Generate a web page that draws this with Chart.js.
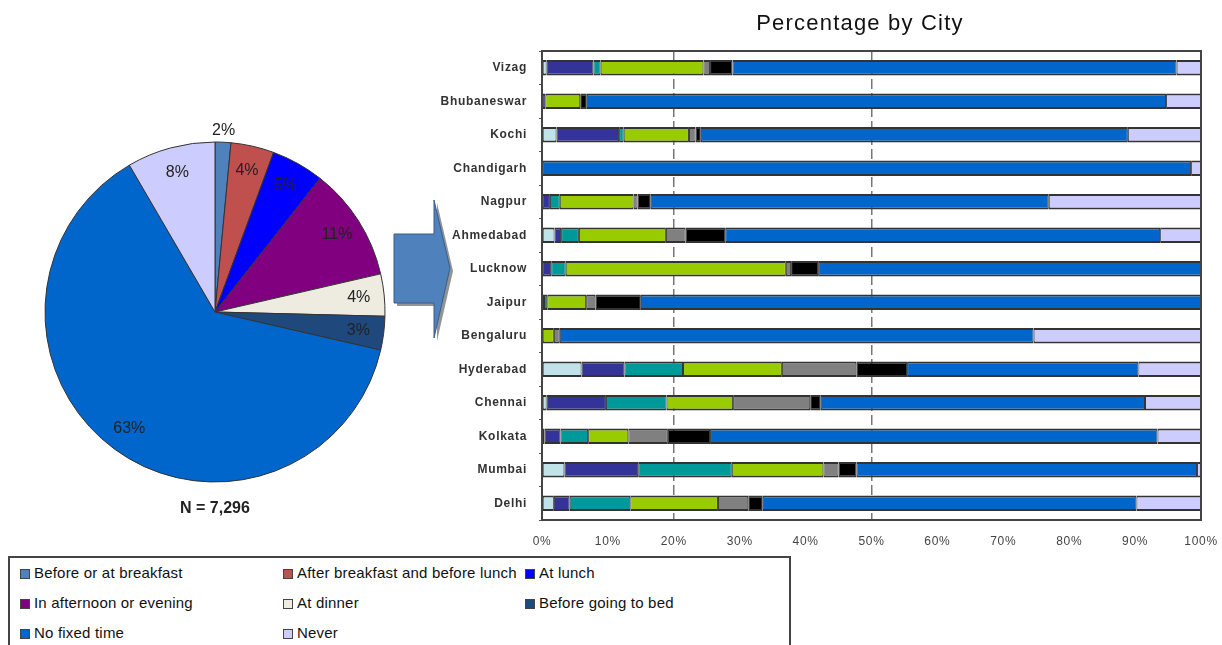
<!DOCTYPE html>
<html>
<head>
<meta charset="utf-8">
<script src="https://cdn.jsdelivr.net/npm/chart.js@4/dist/chart.umd.min.js"></script>
<style>
  body { margin: 0; background: #fff; width: 1222px; height: 645px; overflow: hidden; position: relative;
         font-family: "Liberation Sans", Arial, sans-serif; }
  #pieWrap { position: absolute; left: 0; top: 110px; width: 430px; height: 404px; }
  #barWrap { position: absolute; left: 420px; top: 0; width: 802px; height: 555px; }
  #title { position: absolute; left: 660px; width: 400px; top: 10px; text-align: center;
           font-size: 22px; letter-spacing: 1.2px; color: #111; }
  #nLabel { position: absolute; left: 115px; width: 200px; top: 499px; text-align: center;
            font-weight: bold; font-size: 16px; color: #222; }
  #legend { position: absolute; left: 8px; top: 556px; width: 783px; height: 100px;
            border: 2px solid #444; box-sizing: border-box; }
  .item { position: absolute; height: 30px; line-height: 30px; font-size: 15px; color: #111; white-space: nowrap;
          letter-spacing: 0.2px; }
  .item i { display: inline-block; width: 8px; height: 8px; border: 1px solid #444; margin-right: 4px;
            vertical-align: -1px; }
  #arrow { position: absolute; left: 390px; top: 196px; }
</style>
</head>
<body>
<div id="pieWrap"><canvas id="pie"></canvas></div>
<div id="nLabel">N = 7,296</div>
<svg id="arrow" width="66" height="148" viewBox="390 196 66 148">
  <polygon points="397,237 437,237 437,203 453,271 437,341 437,306 397,306" fill="#3a3a3a" opacity="0.55"/>
  <polygon points="394,234 434,234 434,200 450,268 434,338 434,303 394,303" fill="#4f81bd" stroke="#385d8a" stroke-width="1"/>
</svg>
<div id="barWrap"><canvas id="bars"></canvas></div>
<div id="title">Percentage by City</div>
<div id="legend"></div>

<script>
"use strict";

// pie: overall share of each time slot
const categories = ["Before or at breakfast", "After breakfast and before lunch", "At lunch",
    "In afternoon or evening", "At dinner", "Before going to bed", "No fixed time", "Never"];
const pieShares = [1.5, 4.1, 5.0, 10.8, 4.0, 3.2, 63.0, 8.4];
const pieColors = ["#4f81bd", "#c0504d", "#0000ff", "#800080", "#eeece1", "#1f497d", "#0066cc", "#ccccff"];

// bar chart: percentage by city, top to bottom
const cities = ["Vizag", "Bhubaneswar", "Kochi", "Chandigarh", "Nagpur", "Ahmedabad", "Lucknow",
    "Jaipur", "Bengaluru", "Hyderabad", "Chennai", "Kolkata", "Mumbai", "Delhi"];
const breakfast   = [0.7, 0,    2.2,  0,    0,    1.9,  0,    0,    0,    6.0,  0.7,  0.4,  3.4,  1.8];
const afterBreak  = [7.1, 0.5,  9.5,  0,    1.2,  1.0,  1.4,  0.3,  0,    6.5,  9.0,  2.4,  11.2, 2.4];
const atLunch     = [1.1, 0,    0.7,  0,    1.5,  2.7,  2.2,  0.5,  0,    8.9,  9.2,  4.2,  14.2, 9.2];
const afternoon   = [15.6, 5.3, 9.9,  0,    11.2, 13.2, 33.4, 5.9,  1.8,  15.0, 10.1, 6.1,  13.9, 13.3];
const atDinner    = [1.0, 0,    1.0,  0,    0.6,  3.0,  0.8,  1.4,  0.9,  11.3, 11.7, 6.0,  2.3,  4.6];
const beforeBed   = [3.4, 1.0,  0.8,  0,    2.0,  6.0,  4.1,  6.9,  0,    7.7,  1.6,  6.4,  2.7,  2.2];
const noFixed     = [67.4, 87.9, 64.8, 98.5, 60.4, 66.0, 58.1, 85.0, 71.9, 35.1, 49.2, 67.9, 51.7, 56.7];
const never       = [3.7, 5.3,  11.1, 1.5,  23.1, 6.2,  0,    0,    25.4, 9.5,  8.5,  6.6,  0.6,  9.8];
const barSeries = [breakfast, afterBreak, atLunch, afternoon, atDinner, beforeBed, noFixed, never];
const barColors = ["#bfe3e8", "#333399", "#009999", "#99cc00", "#808080", "#000000", "#0066cc", "#ccccff"];
const xTickLabels = ["0%", "10%", "20%", "30%", "40%", "50%", "60%", "70%", "80%", "90%", "100%"];

const FONT = '"Liberation Sans", Arial, sans-serif';

// legend (html, built from the pie colours)
let legendHtml = "";
let colX = [10, 273, 515];
categories.forEach(function(name, i) {
    let col = i % 3, row = Math.floor(i / 3);
    legendHtml += '<div class="item" style="left:' + colX[col] + 'px;top:' + (row * 30) + 'px">' +
        '<i style="background:' + pieColors[i] + '"></i>' + name + '</div>';
});
document.getElementById("legend").innerHTML = legendHtml;

const pieLabelPlugin = {
    id: "pieLabels",
    afterDatasetsDraw(chart) {
        let ctx = chart.ctx;
        let meta = chart.getDatasetMeta(0);
        ctx.save();
        ctx.font = "16px " + FONT;
        ctx.fillStyle = "#222";
        ctx.textAlign = "center";
        ctx.textBaseline = "middle";
        meta.data.forEach(function(arc, i) {
            let p = arc.getProps(["x", "y", "startAngle", "endAngle", "outerRadius"], true);
            let mid = (p.startAngle + p.endAngle) / 2;
            let r = pieShares[i] < 2 ? p.outerRadius + 12 : p.outerRadius * 0.85;
            ctx.fillText(Math.round(pieShares[i]) + "%", p.x + Math.cos(mid) * r, p.y + Math.sin(mid) * r);
        });
        ctx.restore();
    }
};

new Chart(document.getElementById("pie"), {
    type: "pie",
    data: {
        labels: categories,
        datasets: [{
            data: pieShares,
            backgroundColor: pieColors,
            borderColor: "#333",
            borderWidth: 1,
            radius: 170
        }]
    },
    options: {
        responsive: true,
        maintainAspectRatio: false,
        animation: false,
        layout: { padding: 0 },
        plugins: { legend: { display: false }, tooltip: { enabled: false } }
    },
    plugins: [pieLabelPlugin]
});

// frame round the plot area + slightly spaced axis text like the original
const framePlugin = {
    id: "frame",
    beforeDraw(chart) {
        chart.ctx.letterSpacing = "0.7px";
    },
    afterDraw(chart) {
        let a = chart.chartArea;
        let ctx = chart.ctx;
        ctx.letterSpacing = "0px";
        ctx.save();
        ctx.strokeStyle = "#444";
        ctx.lineWidth = 2;
        ctx.strokeRect(a.left, a.top, a.right - a.left, a.bottom - a.top);
        ctx.restore();
    }
};

new Chart(document.getElementById("bars"), {
    type: "bar",
    data: {
        labels: cities,
        datasets: barSeries.map(function(vals, i) {
            return {
                label: categories[i],
                data: vals,
                backgroundColor: barColors[i],
                borderColor: "#333",
                borderWidth: { top: 2, bottom: 2, left: 1, right: 1 },
                borderSkipped: false,
                barPercentage: 0.46,
                categoryPercentage: 1
            };
        })
    },
    options: {
        indexAxis: "y",
        responsive: true,
        maintainAspectRatio: false,
        animation: false,
        layout: { padding: { left: 0, right: 0, top: 51, bottom: 0 } },
        plugins: {
            legend: { display: false },
            tooltip: { enabled: false },
            title: { display: false }
        },
        scales: {
            x: {
                stacked: true,
                min: 0,
                max: 100,
                grid: {
                    drawTicks: false,
                    color: function(c) { return (c.tick && (c.tick.value === 20 || c.tick.value === 50)) ? "#777" : "rgba(0,0,0,0)"; },
                    lineWidth: 1.5
                },
                border: { display: false, dash: [10, 4] },
                ticks: {
                    stepSize: 10,
                    padding: 14,
                    color: "#444",
                    font: { family: FONT, size: 12 },
                    callback: function(v, i) { return xTickLabels[i]; }
                },
                afterFit: function(s) { s.height = 35; s.paddingRight = 21; }
            },
            y: {
                stacked: true,
                border: { display: false },
                grid: { drawOnChartArea: false, tickLength: 3, tickColor: "#555", offset: true },
                ticks: {
                    padding: 12,
                    color: "#333",
                    font: { family: FONT, size: 12, weight: "bold" }
                },
                afterFit: function(s) { s.width = 122; }
            }
        }
    },
    plugins: [framePlugin]
});
</script>
</body>
</html>
